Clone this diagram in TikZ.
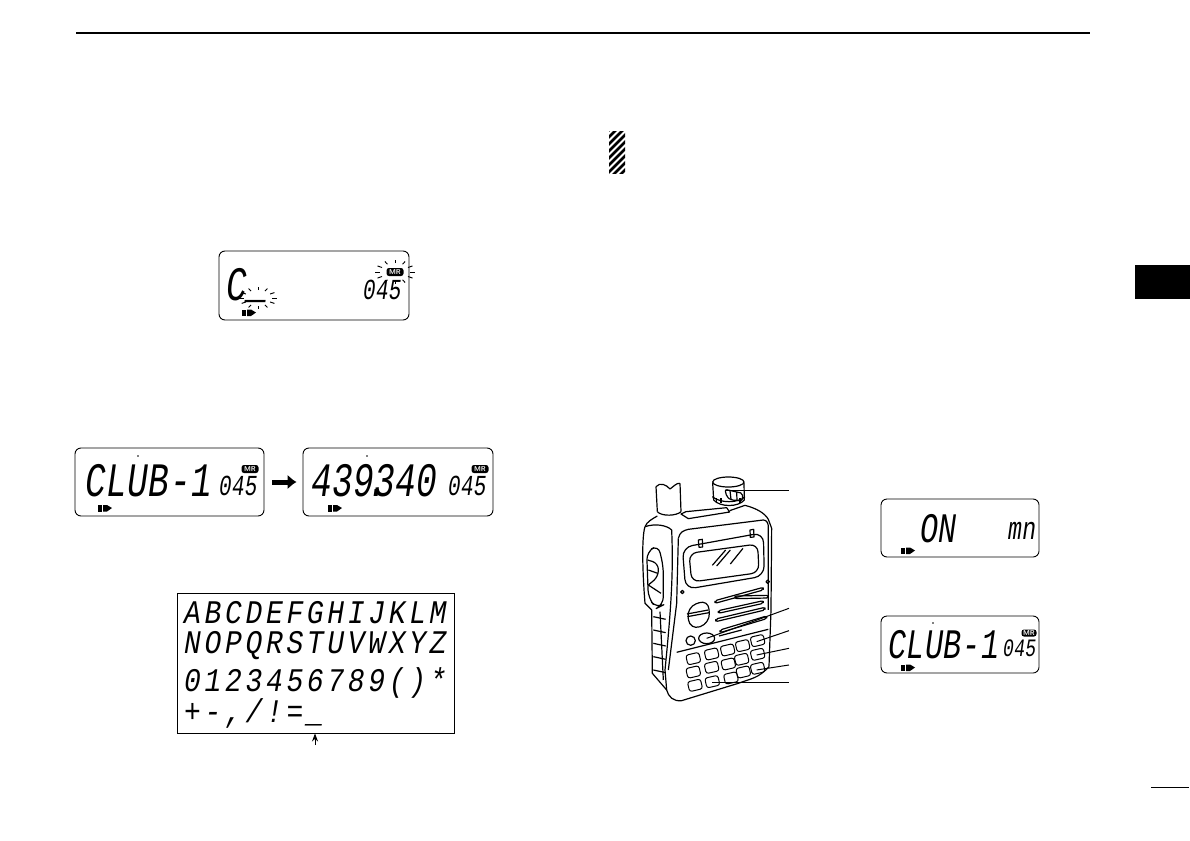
\documentclass[tikz,border=0pt]{standalone}
\usepackage{fontspec}
\usepackage{tikz}
\usetikzlibrary{arrows.meta}
\newfontfamily\lcdwide{Liberation Mono}[FakeStretch=0.85, LetterSpace=11]
\newfontfamily\lcdnarrow{Liberation Mono}[FakeStretch=0.72, LetterSpace=1]
\newcommand{\lcdrow}{\lcdwide\itshape\fontsize{33}{33}\selectfont}
\newcommand{\lcdbig}{\lcdnarrow\itshape\fontsize{48}{48}\selectfont}
\newcommand{\lcdmid}{\lcdnarrow\itshape\fontsize{42}{42}\selectfont}
\newcommand{\lcdsmall}{\lcdnarrow\itshape\fontsize{29}{29}\selectfont}
\newcommand{\battery}[2]{\fill (#1, #2) rectangle (#1+4, #2+6.5); \fill (#1+5, #2) -- (#1+9, #2) -- (#1+14, #2+3) -- (#1+9, #2+6.5) -- (#1+5, #2+6.5) -- cycle;}
\newcommand{\rays}[4]{\foreach \a in {0,30,...,330} \draw[line width=0.9pt] ({#1+#3*cos(\a)}, {#2+#4*sin(\a)}) -- ({#1+1.35*#3*cos(\a)}, {#2+1.35*#4*sin(\a)});}
\tikzset{
    lcdbox/.style={draw, line width=0.9pt, rounded corners=6pt, inner sep=0pt},
    lcdtext/.style={anchor=base west, inner sep=0pt},
    mrbadge/.style={fill=black, text=white, rounded corners=2.5pt, inner sep=0pt, minimum width=17pt, minimum height=8pt, font=\sffamily\bfseries\fontsize{7}{7}\selectfont},
    leader/.style={line width=1pt},
    keycap/.style={line width=1pt, rounded corners=2.5pt},
    radioline/.style={line width=1.2pt, line join=round}
}
\begin{document}
\begin{tikzpicture}[x=1pt, y=-1pt]
    \useasboundingbox (0, 0) rectangle (1190, 840);
    \fill[white] (0, 0) rectangle (1190, 840);

    \draw[line width=1.3pt] (76, 33) -- (1090, 33);
    \draw[line width=1pt] (1151, 787) -- (1189, 787);
    \fill (1135, 265) rectangle (1190, 299);

    \begin{scope}
        \clip (609, 131) rectangle (625, 173);
        \foreach \y in {134,141,...,197}
            \draw[line width=2.6pt] (605, \y) -- (630, \y-25);
    \end{scope}

    \node (lcdblink) [lcdbox, minimum width=190pt, minimum height=69pt] at (314, 285.5) {};
    \node (blinkname) [lcdtext] at (226, 300) {\lcdbig C\kern1pt\raisebox{3pt}{\_}};
    \node (blinkch) [lcdtext] at (363, 299) {\lcdsmall 045};
    \node (blinkmr) [mrbadge] at (395, 272) {MR};
    \rays{395}{272}{15}{9}
    \rays{258}{298}{14}{8}
    \battery{242}{309.5}

    \node (lcdname) [lcdbox, minimum width=189pt, minimum height=68pt] at (169.5, 482) {};
    \node (namedisp) [lcdtext] at (85, 496) {\lcdbig CLUB-1};
    \node (namech) [lcdtext] at (219, 495) {\lcdsmall 045};
    \node (namemr) [mrbadge] at (250, 469) {MR};
    \fill (138, 456) circle (0.8);
    \battery{98}{505}

    \node (lcdfreq) [lcdbox, minimum width=190pt, minimum height=68pt] at (398, 482) {};
    \node (freqdisp) [lcdtext] at (311, 496) {\lcdbig 439\rlap{\kern-7pt.}340};
    \node (freqch) [lcdtext] at (448, 495) {\lcdsmall 045};
    \node (freqmr) [mrbadge] at (480, 469) {MR};
    \fill (367, 456) circle (0.8);
    \battery{328}{505}

    \draw[line width=5pt, -{Latex[length=9pt, width=15pt]}, shorten <=8pt, shorten >=6pt] (lcdname) -- (lcdfreq);

    \node (chart) [draw, line width=0.9pt, minimum width=277pt, minimum height=140pt] at (315.5, 663) {};
    \node (rowa) [lcdtext] at (184, 623) {\lcdrow ABCDEFGHIJKLM};
    \node (rown) [lcdtext] at (184, 653) {\lcdrow NOPQRSTUVWXYZ};
    \node (rownum) [lcdtext] at (184, 691) {\lcdrow 0123456789()*};
    \node (rowsym) [lcdtext] at (184, 722) {\lcdrow +-,/!=\_};
    \coordinate (spacetail) at (315, 745);
    \draw[line width=0.9pt, -{Stealth[length=8pt, width=6pt]}] (spacetail) -- (spacetail |- chart.south);

    \node (lcdon) [lcdbox, minimum width=158pt, minimum height=58pt] at (960, 528) {};
    \node (ondisp) [lcdtext] at (920, 542) {\lcdmid ON};
    \node (onmr) [lcdtext] at (1008, 539) {\lcdnarrow\itshape\fontsize{32}{32}\selectfont mn};
    \battery{901}{547.5}

    \node (lcdback) [lcdbox, minimum width=158pt, minimum height=57pt] at (960, 644.5) {};
    \node (backdisp) [lcdtext] at (888, 658) {\lcdmid CLUB-1};
    \node (backch) [lcdtext] at (1003, 656) {\lcdnarrow\itshape\fontsize{25}{25}\selectfont 045};
    \node (backmr) [mrbadge, minimum width=15pt, minimum height=7pt] at (1029, 633) {MR};
    \fill (933, 623) circle (0.8);
    \battery{901}{664.5}

    \begin{scope}[shift={(625, 470)}, x=0.3333pt, y=-0.3333pt, radioline]
        \draw (93, 50) .. controls (105, 35) and (125, 45) .. (135, 57) .. controls (145, 50) and (155, 38) .. (165, 40);
        \draw (93, 50) -- (97, 125);
        \draw (165, 40) -- (168, 125);
        \draw (97, 125) .. controls (110, 140) and (155, 138) .. (168, 125);

        \draw (310, 36) ellipse (47 and 15);
        \draw (263, 38) -- (266, 90) .. controls (285, 112) and (340, 112) .. (358, 90) -- (357, 38);
        \draw (262, 80) .. controls (285, 100) and (340, 100) .. (360, 80);
        \draw[rounded corners=2pt] (300, 58) -- (353, 70) -- (352, 92) -- (318, 90) -- (305, 80) -- cycle;
        \draw (315, 62) -- (318, 88);
        \draw (335, 66) -- (336, 90);
        \foreach \rx in {275,288,345}
            \draw (\rx, 84) -- (\rx, 100);

        \draw (60, 170) .. controls (65, 155) and (85, 145) .. (97, 138);
        \draw (168, 132) -- (183, 125) -- (305, 113) -- (314, 126) -- (190, 146) -- cycle;
        \draw (314, 122) -- (360, 106) .. controls (395, 115) and (420, 130) .. (430, 148) -- (440, 175) -- (438, 420) -- (432, 590);
        \draw (432, 590) .. controls (400, 625) and (380, 625) .. (340, 640) -- (170, 692) .. controls (145, 695) and (130, 680) .. (125, 660);
        \draw (60, 170) .. controls (50, 200) and (52, 300) .. (60, 400) -- (80, 420) -- (82, 610) -- (125, 660);

        \draw (60, 170) .. controls (90, 160) and (125, 165) .. (140, 180);
        \draw (160, 205) .. controls (165, 185) and (175, 182) .. (190, 178) -- (415, 150) .. controls (425, 150) and (430, 160) .. (430, 170) -- (430, 420);
        \draw (160, 205) -- (155, 400) -- (130, 600);
        \draw (140, 180) .. controls (145, 300) and (140, 400) .. (120, 600) -- (125, 660);
        \draw (155, 547) -- (430, 478);

        \draw[rounded corners=8pt] (65, 245) -- (100, 225) -- (115, 290) -- (115, 405) -- (95, 415) -- (70, 385) -- cycle;
        \draw[rounded corners=6pt] (68, 270) -- (100, 280) -- (100, 320) -- (70, 345);
        \draw (70, 300) -- (98, 310);
        \draw (70, 345) -- (108, 370);

        \foreach \gy in {440,480,520,560,600}
            \draw (85, \gy) -- (122, \gy+8);
        \draw (105, 425) -- (115, 630);

        \draw[rounded corners=10pt] (172, 232) -- (415, 188) -- (418, 318) -- (182, 358) -- cycle;
        \draw[rounded corners=8pt] (192, 250) -- (398, 222) -- (402, 308) -- (200, 336) -- cycle;
        \draw (220, 210) -- (232, 208) -- (233, 231) -- (222, 232) -- cycle;
        \draw (375, 180) -- (386, 178) -- (387, 201) -- (376, 202) -- cycle;
        \draw (262, 286) -- (302, 240);
        \draw (275, 288) -- (316, 240);
        \draw (316, 282) -- (354, 235);
        \draw (172, 366) circle (5);
        \draw (428, 335) circle (5);

        \foreach \sa/\sb/\sc/\sd in {270/392/415/352, 330/378/430/376, 280/422/415/392, 272/447/420/412, 285/480/425/438}
            \draw[rounded corners=2pt] (\sa, \sb) -- (\sc, \sd) -- (\sc, \sd+8) -- (\sa, \sb+8) -- cycle;

        \draw[rounded corners=10pt] (185, 412) -- (250, 388) -- (255, 460) -- (195, 480) -- cycle;
        \draw (186, 432) -- (250, 420);
        \draw (187, 440) -- (252, 428);

        \draw (197, 512) circle (14);
        \draw (245, 505) ellipse (24 and 16);
        \draw (282, 498) -- (350, 480);

        \foreach \kx/\ky in {205/566, 260/552, 308/540, 353/527, 398/512, 205/606, 260/592, 310/582, 350/568, 398/553, 210/646, 262/635, 318/624, 355/606, 398/595}
            \draw[keycap, rotate around={13:(\kx, \ky)}] (\kx-20, \ky-15) rectangle (\kx+20, \ky+15);

        \coordinate (dialpt) at (300, 60);
        \coordinate (dialend) at (492, 60);
        \coordinate (lockpt) at (245, 505);
        \coordinate (lockend) at (492, 415);
        \coordinate (keyapt) at (395, 515);
        \coordinate (keyaend) at (492, 482);
        \coordinate (keybpt) at (395, 555);
        \coordinate (keybend) at (492, 535);
        \coordinate (keycpt) at (395, 600);
        \coordinate (keycend) at (492, 585);
        \coordinate (keydpt) at (262, 637);
        \coordinate (keydend) at (492, 637);
    \end{scope}

    \draw[leader] (dialpt) -- (dialend);
    \draw[leader] (lockpt) -- (lockend);
    \draw[leader] (keyapt) -- (keyaend);
    \draw[leader] (keybpt) -- (keybend);
    \draw[leader] (keycpt) -- (keycend);
    \draw[leader] (keydpt) -- (keydend);
\end{tikzpicture}
\end{document}
